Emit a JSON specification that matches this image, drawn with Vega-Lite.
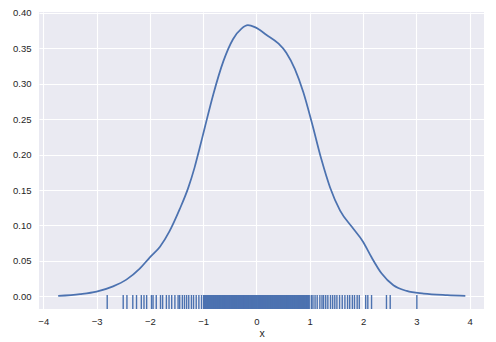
{
  "$schema": "https://vega.github.io/schema/vega-lite/v6.json",
  "width": 445,
  "height": 297,
  "autosize": {"type": "none"},
  "padding": {"left": 39, "top": 12, "right": 12, "bottom": 33},
  "background": "white",
  "config": {
    "view": {"fill": "#EAEAF2", "stroke": null},
    "axis": {
      "grid": true,
      "gridColor": "white",
      "gridWidth": 1.1,
      "domain": false,
      "ticks": false,
      "tickSize": 0,
      "labelColor": "#262626",
      "labelFont": "Liberation Sans",
      "labelFontSize": 9.5,
      "titleFont": "Liberation Sans",
      "titleFontSize": 10.5,
      "titleFontWeight": "normal",
      "titleColor": "#262626"
    }
  },
  "datasets": {
    "kde": [
      {"x": -3.72, "y": 0.0004},
      {"x": -3.31, "y": 0.003},
      {"x": -3.0, "y": 0.0066},
      {"x": -2.69, "y": 0.014},
      {"x": -2.44, "y": 0.0235},
      {"x": -2.19, "y": 0.039},
      {"x": -2.0, "y": 0.055},
      {"x": -1.81, "y": 0.07},
      {"x": -1.63, "y": 0.092},
      {"x": -1.44, "y": 0.123},
      {"x": -1.28, "y": 0.153},
      {"x": -1.16, "y": 0.182},
      {"x": -1.07, "y": 0.208},
      {"x": -0.97, "y": 0.238},
      {"x": -0.81, "y": 0.285},
      {"x": -0.62, "y": 0.332},
      {"x": -0.44, "y": 0.363},
      {"x": -0.28, "y": 0.378},
      {"x": -0.16, "y": 0.3827},
      {"x": -0.03, "y": 0.38},
      {"x": 0.19, "y": 0.369},
      {"x": 0.41, "y": 0.357},
      {"x": 0.56, "y": 0.344},
      {"x": 0.72, "y": 0.321},
      {"x": 0.88, "y": 0.288},
      {"x": 1.04, "y": 0.245},
      {"x": 1.22, "y": 0.193},
      {"x": 1.38, "y": 0.154},
      {"x": 1.57, "y": 0.121},
      {"x": 1.79, "y": 0.098},
      {"x": 2.0, "y": 0.077},
      {"x": 2.16, "y": 0.055},
      {"x": 2.35, "y": 0.032},
      {"x": 2.57, "y": 0.0155},
      {"x": 2.82, "y": 0.0075},
      {"x": 3.14, "y": 0.0038},
      {"x": 3.58, "y": 0.0015},
      {"x": 3.92, "y": 0.0004}
    ],
    "rug": [
      {"x": -2.80}, {"x": -2.50}, {"x": -2.43}, {"x": -2.32}, {"x": -2.25}, {"x": -2.16}, {"x": -2.11}, {"x": -2.06},
      {"x": -1.97}, {"x": -1.94}, {"x": -1.88}, {"x": -1.80}, {"x": -1.76}, {"x": -1.69}, {"x": -1.64}, {"x": -1.59},
      {"x": -1.53}, {"x": -1.47}, {"x": -1.44}, {"x": -1.39}, {"x": -1.35}, {"x": -1.31}, {"x": -1.27}, {"x": -1.22},
      {"x": -1.18}, {"x": -1.13}, {"x": -1.08}, {"x": -1.03}, {"x": -0.99},
      {"x": -0.985}, {"x": -0.972}, {"x": -0.96}, {"x": -0.947}, {"x": -0.935}, {"x": -0.922}, {"x": -0.91}, {"x": -0.897},
      {"x": -0.885}, {"x": -0.872}, {"x": -0.86}, {"x": -0.847}, {"x": -0.835}, {"x": -0.822}, {"x": -0.81}, {"x": -0.797},
      {"x": -0.785}, {"x": -0.772}, {"x": -0.76}, {"x": -0.747}, {"x": -0.735}, {"x": -0.722}, {"x": -0.71}, {"x": -0.697},
      {"x": -0.685}, {"x": -0.672}, {"x": -0.66}, {"x": -0.647}, {"x": -0.635}, {"x": -0.622}, {"x": -0.61}, {"x": -0.597},
      {"x": -0.585}, {"x": -0.572}, {"x": -0.56}, {"x": -0.547}, {"x": -0.535}, {"x": -0.522}, {"x": -0.51}, {"x": -0.497},
      {"x": -0.485}, {"x": -0.472}, {"x": -0.46}, {"x": -0.447}, {"x": -0.435}, {"x": -0.422}, {"x": -0.41}, {"x": -0.397},
      {"x": -0.385}, {"x": -0.372}, {"x": -0.36}, {"x": -0.347}, {"x": -0.335}, {"x": -0.322}, {"x": -0.31}, {"x": -0.297},
      {"x": -0.285}, {"x": -0.272}, {"x": -0.26}, {"x": -0.247}, {"x": -0.235}, {"x": -0.222}, {"x": -0.21}, {"x": -0.197},
      {"x": -0.185}, {"x": -0.172}, {"x": -0.16}, {"x": -0.147}, {"x": -0.135}, {"x": -0.122}, {"x": -0.11}, {"x": -0.097},
      {"x": -0.085}, {"x": -0.072}, {"x": -0.06}, {"x": -0.047}, {"x": -0.035}, {"x": -0.022}, {"x": -0.01}, {"x": 0.003},
      {"x": 0.015}, {"x": 0.028}, {"x": 0.04}, {"x": 0.053}, {"x": 0.065}, {"x": 0.078}, {"x": 0.09}, {"x": 0.103},
      {"x": 0.115}, {"x": 0.128}, {"x": 0.14}, {"x": 0.153}, {"x": 0.165}, {"x": 0.178}, {"x": 0.19}, {"x": 0.203},
      {"x": 0.215}, {"x": 0.228}, {"x": 0.24}, {"x": 0.253}, {"x": 0.265}, {"x": 0.278}, {"x": 0.29}, {"x": 0.303},
      {"x": 0.315}, {"x": 0.328}, {"x": 0.34}, {"x": 0.353}, {"x": 0.365}, {"x": 0.378}, {"x": 0.39}, {"x": 0.403},
      {"x": 0.415}, {"x": 0.428}, {"x": 0.44}, {"x": 0.453}, {"x": 0.465}, {"x": 0.478}, {"x": 0.49}, {"x": 0.503},
      {"x": 0.515}, {"x": 0.528}, {"x": 0.54}, {"x": 0.553}, {"x": 0.565}, {"x": 0.578}, {"x": 0.59}, {"x": 0.603},
      {"x": 0.615}, {"x": 0.628}, {"x": 0.64}, {"x": 0.653}, {"x": 0.665}, {"x": 0.678}, {"x": 0.69}, {"x": 0.703},
      {"x": 0.715}, {"x": 0.728}, {"x": 0.74}, {"x": 0.753}, {"x": 0.765}, {"x": 0.778}, {"x": 0.79}, {"x": 0.803},
      {"x": 0.815}, {"x": 0.828}, {"x": 0.84}, {"x": 0.853}, {"x": 0.865}, {"x": 0.878}, {"x": 0.89}, {"x": 0.903},
      {"x": 0.915}, {"x": 0.928}, {"x": 0.94}, {"x": 0.953}, {"x": 0.965}, {"x": 0.978}, {"x": 0.99},
      {"x": 1.03}, {"x": 1.06}, {"x": 1.10}, {"x": 1.14}, {"x": 1.19}, {"x": 1.23}, {"x": 1.26}, {"x": 1.30},
      {"x": 1.34}, {"x": 1.39}, {"x": 1.43}, {"x": 1.47}, {"x": 1.51}, {"x": 1.56}, {"x": 1.61}, {"x": 1.66},
      {"x": 1.71}, {"x": 1.75}, {"x": 1.80}, {"x": 1.84}, {"x": 1.89}, {"x": 1.93}, {"x": 2.05}, {"x": 2.09},
      {"x": 2.16}, {"x": 2.44}, {"x": 2.51}, {"x": 3.01}
    ]
  },
  "layer": [
    {
      "data": {"name": "rug"},
      "mark": {"type": "rule", "color": "#4C72B0", "strokeWidth": 1.4},
      "encoding": {
        "x": {
          "field": "x",
          "type": "quantitative",
          "title": "x",
          "scale": {"domain": [-4.08, 4.27], "nice": false, "zero": false},
          "axis": {"values": [-4, -3, -2, -1, 0, 1, 2, 3, 4], "format": "d", "labelPadding": 7, "titlePadding": 3, "labelFlush": false, "grid": true}
        },
        "y": {
          "datum": -0.018,
          "type": "quantitative",
          "title": null,
          "scale": {"domain": [-0.018, 0.4014], "nice": false, "zero": false},
          "axis": {"values": [0, 0.05, 0.1, 0.15, 0.2, 0.25, 0.3, 0.35, 0.4], "format": ".2f", "labelPadding": 8, "labelFlush": false, "grid": true}
        },
        "y2": {"datum": 0.0018}
      }
    },
    {
      "data": {"name": "kde"},
      "mark": {"type": "line", "color": "#4C72B0", "strokeWidth": 1.75, "interpolate": "monotone"},
      "encoding": {
        "x": {
          "field": "x",
          "type": "quantitative",
          "title": "x",
          "scale": {"domain": [-4.08, 4.27], "nice": false, "zero": false},
          "axis": {"values": [-4, -3, -2, -1, 0, 1, 2, 3, 4], "format": "d", "labelPadding": 7, "titlePadding": 3, "labelFlush": false, "grid": true}
        },
        "y": {
          "field": "y",
          "type": "quantitative",
          "title": null,
          "scale": {"domain": [-0.018, 0.4014], "nice": false, "zero": false},
          "axis": {"values": [0, 0.05, 0.1, 0.15, 0.2, 0.25, 0.3, 0.35, 0.4], "format": ".2f", "labelPadding": 8, "labelFlush": false, "grid": true}
        }
      }
    }
  ]
}
